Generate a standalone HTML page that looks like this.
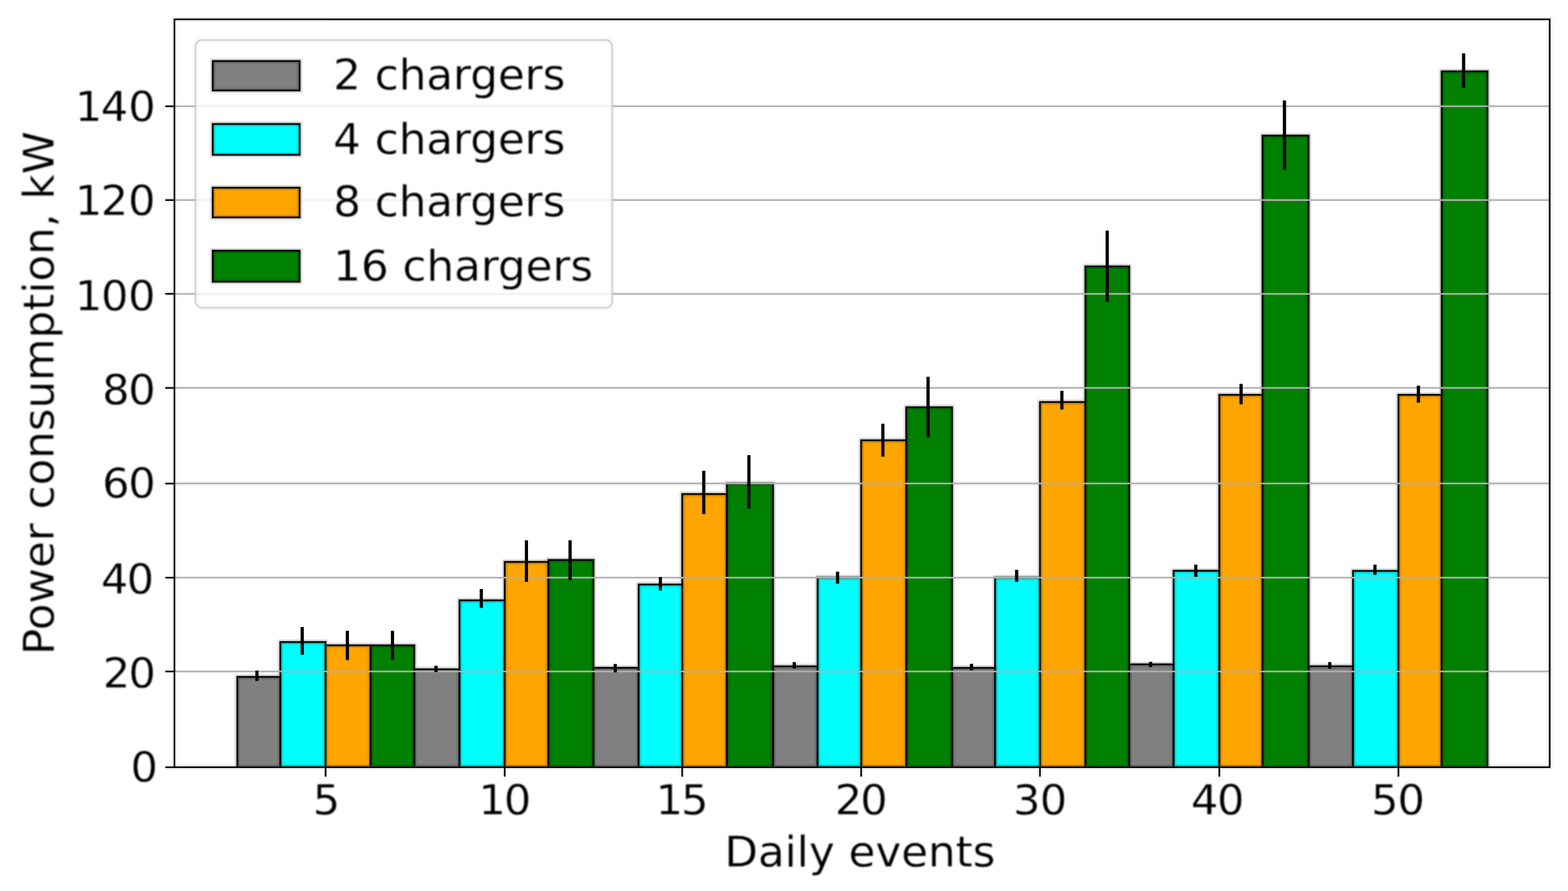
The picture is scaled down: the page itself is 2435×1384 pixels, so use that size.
<!DOCTYPE html>
<html lang="en">
<head>
<meta charset="utf-8">
<title>Power consumption vs daily events</title>
<style>
html,body{margin:0;padding:0;background:#fff;}
body{width:2435px;height:1384px;overflow:hidden;}
svg{display:block;}
text{font-family:'DejaVu Sans','Liberation Sans',sans-serif;white-space:pre;}
</style>
</head>
<body>
<svg width="2435" height="1384" viewBox="0 0 2435 1384" font-family="'DejaVu Sans','Liberation Sans',sans-serif" font-size="67.7" fill="#000">
<defs><filter id="soft" x="0" y="0" width="2435" height="1384" filterUnits="userSpaceOnUse" color-interpolation-filters="sRGB"><feGaussianBlur stdDeviation="0.7"/></filter><filter id="softt" x="0" y="0" width="2435" height="1384" filterUnits="userSpaceOnUse" color-interpolation-filters="sRGB"><feGaussianBlur stdDeviation="1.0"/></filter><filter id="halo" x="0" y="0" width="2435" height="1384" filterUnits="userSpaceOnUse" color-interpolation-filters="sRGB"><feGaussianBlur stdDeviation="1.2"/></filter><clipPath id="ax"><rect x="270.9" y="30.0" width="2135.7" height="1161.8"/></clipPath></defs>
<rect x="0" y="0" width="2435" height="1384" fill="#fff"/>
<g filter="url(#soft)">
<g clip-path="url(#ax)">
<g stroke="none">
<rect x="368.5" y="1051.4" width="66.8" height="140.4" fill="#808080"/>
<rect x="643.4" y="1039.6" width="70.2" height="152.2" fill="#808080"/>
<rect x="921.7" y="1037.3" width="70.1" height="154.5" fill="#808080"/>
<rect x="1200.5" y="1035.0" width="69.2" height="156.8" fill="#808080"/>
<rect x="1478.5" y="1037.4" width="66.8" height="154.4" fill="#808080"/>
<rect x="1753.7" y="1031.9" width="68.8" height="159.9" fill="#808080"/>
<rect x="2032.2" y="1034.9" width="68.9" height="156.9" fill="#808080"/>
<rect x="435.3" y="997.3" width="70.3" height="194.5" fill="#00ffff"/>
<rect x="713.6" y="932.5" width="70.2" height="259.3" fill="#00ffff"/>
<rect x="991.8" y="907.9" width="67.6" height="283.9" fill="#00ffff"/>
<rect x="1269.7" y="897.0" width="67.6" height="294.8" fill="#00ffff"/>
<rect x="1545.3" y="897.0" width="69.7" height="294.8" fill="#00ffff"/>
<rect x="1822.5" y="886.6" width="71.0" height="305.2" fill="#00ffff"/>
<rect x="2101.1" y="886.8" width="70.6" height="305.0" fill="#00ffff"/>
<rect x="505.6" y="1002.4" width="69.7" height="189.4" fill="#ffa500"/>
<rect x="783.8" y="872.8" width="67.7" height="319.0" fill="#ffa500"/>
<rect x="1059.4" y="767.4" width="69.4" height="424.4" fill="#ffa500"/>
<rect x="1337.3" y="683.9" width="70.0" height="507.9" fill="#ffa500"/>
<rect x="1615.0" y="624.5" width="70.5" height="567.3" fill="#ffa500"/>
<rect x="1893.5" y="613.3" width="67.1" height="578.5" fill="#ffa500"/>
<rect x="2171.7" y="613.3" width="67.1" height="578.5" fill="#ffa500"/>
<rect x="575.3" y="1002.4" width="68.1" height="189.4" fill="#008000"/>
<rect x="851.5" y="869.8" width="70.2" height="322.0" fill="#008000"/>
<rect x="1128.8" y="751.0" width="71.7" height="440.8" fill="#008000"/>
<rect x="1407.3" y="632.6" width="71.2" height="559.2" fill="#008000"/>
<rect x="1685.5" y="413.8" width="68.2" height="778.0" fill="#008000"/>
<rect x="1960.6" y="210.6" width="71.6" height="981.2" fill="#008000"/>
<rect x="2238.8" y="110.8" width="71.2" height="1081.0" fill="#008000"/>
</g>
<g fill="none" stroke="#000" stroke-width="6.5" opacity="0.26" filter="url(#halo)">
<rect x="368.5" y="1051.4" width="66.8" height="140.4"/>
<rect x="643.4" y="1039.6" width="70.2" height="152.2"/>
<rect x="921.7" y="1037.3" width="70.1" height="154.5"/>
<rect x="1200.5" y="1035.0" width="69.2" height="156.8"/>
<rect x="1478.5" y="1037.4" width="66.8" height="154.4"/>
<rect x="1753.7" y="1031.9" width="68.8" height="159.9"/>
<rect x="2032.2" y="1034.9" width="68.9" height="156.9"/>
<rect x="435.3" y="997.3" width="70.3" height="194.5"/>
<rect x="713.6" y="932.5" width="70.2" height="259.3"/>
<rect x="991.8" y="907.9" width="67.6" height="283.9"/>
<rect x="1269.7" y="897.0" width="67.6" height="294.8"/>
<rect x="1545.3" y="897.0" width="69.7" height="294.8"/>
<rect x="1822.5" y="886.6" width="71.0" height="305.2"/>
<rect x="2101.1" y="886.8" width="70.6" height="305.0"/>
<rect x="505.6" y="1002.4" width="69.7" height="189.4"/>
<rect x="783.8" y="872.8" width="67.7" height="319.0"/>
<rect x="1059.4" y="767.4" width="69.4" height="424.4"/>
<rect x="1337.3" y="683.9" width="70.0" height="507.9"/>
<rect x="1615.0" y="624.5" width="70.5" height="567.3"/>
<rect x="1893.5" y="613.3" width="67.1" height="578.5"/>
<rect x="2171.7" y="613.3" width="67.1" height="578.5"/>
<rect x="575.3" y="1002.4" width="68.1" height="189.4"/>
<rect x="851.5" y="869.8" width="70.2" height="322.0"/>
<rect x="1128.8" y="751.0" width="71.7" height="440.8"/>
<rect x="1407.3" y="632.6" width="71.2" height="559.2"/>
<rect x="1685.5" y="413.8" width="68.2" height="778.0"/>
<rect x="1960.6" y="210.6" width="71.6" height="981.2"/>
<rect x="2238.8" y="110.8" width="71.2" height="1081.0"/>
</g>
<g fill="none" stroke="#000" stroke-width="2.5">
<rect x="368.5" y="1051.4" width="66.8" height="140.4"/>
<rect x="643.4" y="1039.6" width="70.2" height="152.2"/>
<rect x="921.7" y="1037.3" width="70.1" height="154.5"/>
<rect x="1200.5" y="1035.0" width="69.2" height="156.8"/>
<rect x="1478.5" y="1037.4" width="66.8" height="154.4"/>
<rect x="1753.7" y="1031.9" width="68.8" height="159.9"/>
<rect x="2032.2" y="1034.9" width="68.9" height="156.9"/>
<rect x="435.3" y="997.3" width="70.3" height="194.5"/>
<rect x="713.6" y="932.5" width="70.2" height="259.3"/>
<rect x="991.8" y="907.9" width="67.6" height="283.9"/>
<rect x="1269.7" y="897.0" width="67.6" height="294.8"/>
<rect x="1545.3" y="897.0" width="69.7" height="294.8"/>
<rect x="1822.5" y="886.6" width="71.0" height="305.2"/>
<rect x="2101.1" y="886.8" width="70.6" height="305.0"/>
<rect x="505.6" y="1002.4" width="69.7" height="189.4"/>
<rect x="783.8" y="872.8" width="67.7" height="319.0"/>
<rect x="1059.4" y="767.4" width="69.4" height="424.4"/>
<rect x="1337.3" y="683.9" width="70.0" height="507.9"/>
<rect x="1615.0" y="624.5" width="70.5" height="567.3"/>
<rect x="1893.5" y="613.3" width="67.1" height="578.5"/>
<rect x="2171.7" y="613.3" width="67.1" height="578.5"/>
<rect x="575.3" y="1002.4" width="68.1" height="189.4"/>
<rect x="851.5" y="869.8" width="70.2" height="322.0"/>
<rect x="1128.8" y="751.0" width="71.7" height="440.8"/>
<rect x="1407.3" y="632.6" width="71.2" height="559.2"/>
<rect x="1685.5" y="413.8" width="68.2" height="778.0"/>
<rect x="1960.6" y="210.6" width="71.6" height="981.2"/>
<rect x="2238.8" y="110.8" width="71.2" height="1081.0"/>
</g>
<g stroke="#b0b0b0" fill="none">
<line x1="270.9" x2="2406.6" y1="1191.8" y2="1191.8" stroke-width="7.5" opacity="0.06"/>
<line x1="270.9" x2="2406.6" y1="1191.8" y2="1191.8" stroke-width="2.5"/>
<line x1="270.9" x2="2406.6" y1="1043.0" y2="1043.0" stroke-width="7.5" opacity="0.06"/>
<line x1="270.9" x2="2406.6" y1="1043.0" y2="1043.0" stroke-width="2.5"/>
<line x1="270.9" x2="2406.6" y1="897.3" y2="897.3" stroke-width="7.5" opacity="0.06"/>
<line x1="270.9" x2="2406.6" y1="897.3" y2="897.3" stroke-width="2.5"/>
<line x1="270.9" x2="2406.6" y1="751.1" y2="751.1" stroke-width="7.5" opacity="0.06"/>
<line x1="270.9" x2="2406.6" y1="751.1" y2="751.1" stroke-width="2.5"/>
<line x1="270.9" x2="2406.6" y1="602.6" y2="602.6" stroke-width="7.5" opacity="0.06"/>
<line x1="270.9" x2="2406.6" y1="602.6" y2="602.6" stroke-width="2.5"/>
<line x1="270.9" x2="2406.6" y1="456.4" y2="456.4" stroke-width="7.5" opacity="0.06"/>
<line x1="270.9" x2="2406.6" y1="456.4" y2="456.4" stroke-width="2.5"/>
<line x1="270.9" x2="2406.6" y1="310.8" y2="310.8" stroke-width="7.5" opacity="0.06"/>
<line x1="270.9" x2="2406.6" y1="310.8" y2="310.8" stroke-width="2.5"/>
<line x1="270.9" x2="2406.6" y1="165.1" y2="165.1" stroke-width="7.5" opacity="0.06"/>
<line x1="270.9" x2="2406.6" y1="165.1" y2="165.1" stroke-width="2.5"/>
</g>
<g stroke="#000" stroke-width="5.0" fill="none">
<line x1="399.0" x2="399.0" y1="1041.8" y2="1057.8"/>
<line x1="469.3" x2="469.3" y1="974.1" y2="1017.0"/>
<line x1="539.4" x2="539.4" y1="979.8" y2="1025.3"/>
<line x1="609.5" x2="609.5" y1="979.8" y2="1025.3"/>
<line x1="677.1" x2="677.1" y1="1034.0" y2="1044.1"/>
<line x1="747.4" x2="747.4" y1="915.0" y2="944.3"/>
<line x1="817.5" x2="817.5" y1="839.3" y2="903.8"/>
<line x1="885.3" x2="885.3" y1="839.3" y2="900.8"/>
<line x1="955.4" x2="955.4" y1="1031.4" y2="1044.4"/>
<line x1="1025.5" x2="1025.5" y1="896.4" y2="917.3"/>
<line x1="1092.9" x2="1092.9" y1="731.3" y2="798.4"/>
<line x1="1163.0" x2="1163.0" y1="707.0" y2="790.1"/>
<line x1="1233.4" x2="1233.4" y1="1028.5" y2="1038.5"/>
<line x1="1300.7" x2="1300.7" y1="888.1" y2="906.5"/>
<line x1="1371.0" x2="1371.0" y1="658.2" y2="709.3"/>
<line x1="1441.2" x2="1441.2" y1="585.3" y2="679.5"/>
<line x1="1508.6" x2="1508.6" y1="1031.1" y2="1041.4"/>
<line x1="1578.8" x2="1578.8" y1="885.1" y2="903.9"/>
<line x1="1649.0" x2="1649.0" y1="607.0" y2="636.1"/>
<line x1="1719.4" x2="1719.4" y1="358.2" y2="468.7"/>
<line x1="1786.8" x2="1786.8" y1="1028.2" y2="1036.1"/>
<line x1="1857.0" x2="1857.0" y1="877.1" y2="896.0"/>
<line x1="1927.3" x2="1927.3" y1="596.3" y2="628.1"/>
<line x1="1994.7" x2="1994.7" y1="156.0" y2="263.5"/>
<line x1="2065.0" x2="2065.0" y1="1028.4" y2="1038.7"/>
<line x1="2135.2" x2="2135.2" y1="877.1" y2="892.9"/>
<line x1="2202.7" x2="2202.7" y1="599.1" y2="625.5"/>
<line x1="2272.9" x2="2272.9" y1="83.0" y2="136.6"/>
</g>
</g>
<g stroke="#000" stroke-width="7.5" fill="none" opacity="0.06">
<line x1="256.6" x2="270.9" y1="1191.8" y2="1191.8"/>
<line x1="256.6" x2="270.9" y1="1043.0" y2="1043.0"/>
<line x1="256.6" x2="270.9" y1="897.3" y2="897.3"/>
<line x1="256.6" x2="270.9" y1="751.1" y2="751.1"/>
<line x1="256.6" x2="270.9" y1="602.6" y2="602.6"/>
<line x1="256.6" x2="270.9" y1="456.4" y2="456.4"/>
<line x1="256.6" x2="270.9" y1="310.8" y2="310.8"/>
<line x1="256.6" x2="270.9" y1="165.1" y2="165.1"/>
<line x1="505.6" x2="505.6" y1="1191.8" y2="1206.4"/>
<line x1="783.8" x2="783.8" y1="1191.8" y2="1206.4"/>
<line x1="1059.4" x2="1059.4" y1="1191.8" y2="1206.4"/>
<line x1="1337.3" x2="1337.3" y1="1191.8" y2="1206.4"/>
<line x1="1615.0" x2="1615.0" y1="1191.8" y2="1206.4"/>
<line x1="1893.5" x2="1893.5" y1="1191.8" y2="1206.4"/>
<line x1="2171.7" x2="2171.7" y1="1191.8" y2="1206.4"/>
<rect x="270.9" y="30.0" width="2135.7" height="1161.8"/>
</g>
<g stroke="#000" stroke-width="2.5" fill="none">
<line x1="256.6" x2="270.9" y1="1191.8" y2="1191.8"/>
<line x1="256.6" x2="270.9" y1="1043.0" y2="1043.0"/>
<line x1="256.6" x2="270.9" y1="897.3" y2="897.3"/>
<line x1="256.6" x2="270.9" y1="751.1" y2="751.1"/>
<line x1="256.6" x2="270.9" y1="602.6" y2="602.6"/>
<line x1="256.6" x2="270.9" y1="456.4" y2="456.4"/>
<line x1="256.6" x2="270.9" y1="310.8" y2="310.8"/>
<line x1="256.6" x2="270.9" y1="165.1" y2="165.1"/>
<line x1="505.6" x2="505.6" y1="1191.8" y2="1206.4"/>
<line x1="783.8" x2="783.8" y1="1191.8" y2="1206.4"/>
<line x1="1059.4" x2="1059.4" y1="1191.8" y2="1206.4"/>
<line x1="1337.3" x2="1337.3" y1="1191.8" y2="1206.4"/>
<line x1="1615.0" x2="1615.0" y1="1191.8" y2="1206.4"/>
<line x1="1893.5" x2="1893.5" y1="1191.8" y2="1206.4"/>
<line x1="2171.7" x2="2171.7" y1="1191.8" y2="1206.4"/>
<rect x="270.9" y="30.0" width="2135.7" height="1161.8"/>
</g>
<rect x="303.7" y="62.2" width="647.0" height="415.9" rx="10" ry="10" fill="#fff" fill-opacity="0.8" stroke="none"/>
<rect x="303.7" y="62.2" width="647.0" height="415.9" rx="10" ry="10" fill="none" stroke="#ccc" stroke-opacity="0.15" stroke-width="7.5"/>
<rect x="303.7" y="62.2" width="647.0" height="415.9" rx="10" ry="10" fill="none" stroke="#ccc" stroke-opacity="0.8" stroke-width="2.5"/>
<rect x="330.4" y="94.8" width="134.9" height="45.7" fill="#808080" stroke="none"/>
<rect x="330.4" y="94.8" width="134.9" height="45.7" fill="none" stroke="#000" stroke-width="6.5" opacity="0.26" filter="url(#halo)"/>
<rect x="330.4" y="94.8" width="134.9" height="45.7" fill="none" stroke="#000" stroke-width="2.5"/>
<rect x="330.4" y="192.6" width="134.9" height="47.9" fill="#00ffff" stroke="none"/>
<rect x="330.4" y="192.6" width="134.9" height="47.9" fill="none" stroke="#000" stroke-width="6.5" opacity="0.26" filter="url(#halo)"/>
<rect x="330.4" y="192.6" width="134.9" height="47.9" fill="none" stroke="#000" stroke-width="2.5"/>
<rect x="330.4" y="291.6" width="134.9" height="46.1" fill="#ffa500" stroke="none"/>
<rect x="330.4" y="291.6" width="134.9" height="46.1" fill="none" stroke="#000" stroke-width="6.5" opacity="0.26" filter="url(#halo)"/>
<rect x="330.4" y="291.6" width="134.9" height="46.1" fill="none" stroke="#000" stroke-width="2.5"/>
<rect x="330.4" y="389.4" width="134.9" height="48.2" fill="#008000" stroke="none"/>
<rect x="330.4" y="389.4" width="134.9" height="48.2" fill="none" stroke="#000" stroke-width="6.5" opacity="0.26" filter="url(#halo)"/>
<rect x="330.4" y="389.4" width="134.9" height="48.2" fill="none" stroke="#000" stroke-width="2.5"/>
</g>
<g filter="url(#softt)" stroke="#fff" stroke-width="0.4" stroke-linejoin="round">
<text transform="translate(0,1214.10) scale(1,0.968)" x="202.65" y="0" font-size="66.7">0</text>
<text transform="translate(0,1068.20) scale(1,0.968)" x="159.73 199.50" y="0" font-size="66.7">20</text>
<text transform="translate(0,922.20) scale(1,0.968)" x="156.78 196.75" y="0" font-size="66.7">40</text>
<text transform="translate(0,773.40) scale(1,0.968)" x="158.80 199.20" y="0" font-size="66.7">60</text>
<text transform="translate(0,627.70) scale(1,0.968)" x="158.80 199.20" y="0" font-size="66.7">80</text>
<text transform="translate(0,482.40) scale(1,0.968)" x="116.50 156.95 199.10" y="0" font-size="66.7">100</text>
<text transform="translate(0,333.60) scale(1,0.968)" x="116.50 156.58 199.10" y="0" font-size="66.7">120</text>
<text transform="translate(0,187.60) scale(1,0.968)" x="116.55 156.53 199.25" y="0" font-size="66.7">140</text>
<text transform="translate(0,1265.30) scale(1,0.968)" x="485.87" y="0" font-size="66.7">5</text>
<text transform="translate(0,1265.30) scale(1,0.968)" x="742.95 782.60" y="0" font-size="66.7">10</text>
<text transform="translate(0,1265.30) scale(1,0.968)" x="1018.35 1057.77" y="0" font-size="66.7">15</text>
<text transform="translate(0,1265.30) scale(1,0.968)" x="1296.43 1336.10" y="0" font-size="66.7">20</text>
<text transform="translate(0,1265.30) scale(1,0.968)" x="1573.16 1614.65" y="0" font-size="66.7">30</text>
<text transform="translate(0,1265.30) scale(1,0.968)" x="1849.48 1890.00" y="0" font-size="66.7">40</text>
<text transform="translate(0,1265.30) scale(1,0.968)" x="2129.37 2170.20" y="0" font-size="66.7">50</text>
<text transform="translate(1337.05,1346.30) scale(1,0.985)" x="-212.12" y="0">Daily events</text>
<text transform="translate(83.30,607.20) rotate(-90) scale(1,0.985)" x="-410.28" y="0">Power consumption, kW</text>
<text transform="translate(517.4,139.2) scale(1,0.985)" x="0" y="0">2 chargers</text>
<text transform="translate(517.4,238.7) scale(1,0.985)" x="0" y="0">4 chargers</text>
<text transform="translate(517.4,336.3) scale(1,0.985)" x="0" y="0">8 chargers</text>
<text transform="translate(517.4,436.4) scale(1,0.985)" x="0" y="0">16 chargers</text>
</g>
</svg>
</body>
</html>
